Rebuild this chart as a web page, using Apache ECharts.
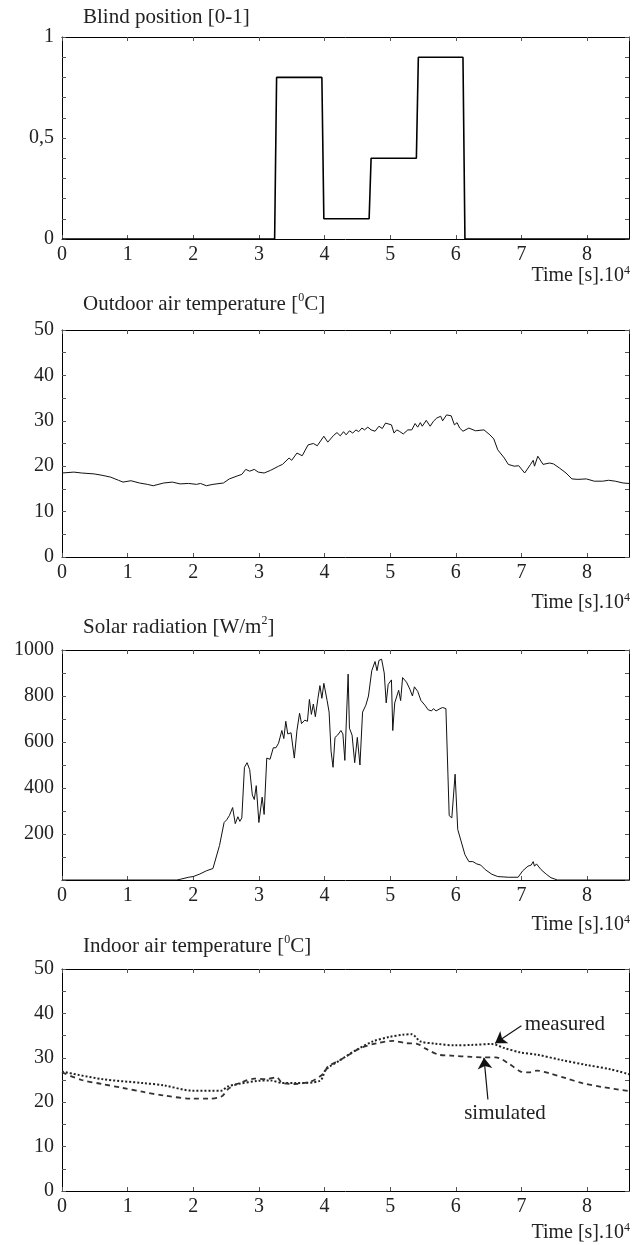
<!DOCTYPE html>
<html>
<head>
<meta charset="utf-8">
<script src="https://cdn.jsdelivr.net/npm/echarts@6/dist/echarts.min.js"></script>
<style>
html,body{margin:0;padding:0;background:#fff;}
#c{width:643px;height:1245px;}
</style>
</head>
<body>
<div id="c"></div>
<script>
// ---- data (time in units of 10^4 s) ----
const blindTime = [0, 3.24, 3.27, 3.96, 3.99, 4.68, 4.71, 5.40, 5.43, 6.11, 6.14, 8.64];
const blindPos  = [0, 0, 0.8, 0.8, 0.1, 0.1, 0.4, 0.4, 0.9, 0.9, 0, 0];

const outdoorTime = [0,0.18,0.3,0.49,0.61,0.74,0.86,0.93,1.05,1.18,1.3,1.39,1.55,1.68,1.8,1.93,2.05,2.11,2.2,2.3,2.46,2.55,2.68,2.74,2.8,2.86,2.93,2.99,3.08,3.18,3.3,3.36,3.46,3.5,3.58,3.66,3.75,3.83,3.89,3.99,4.05,4.14,4.19,4.24,4.29,4.33,4.38,4.43,4.48,4.52,4.57,4.61,4.66,4.71,4.77,4.83,4.88,4.93,5.02,5.06,5.1,5.14,5.2,5.27,5.33,5.38,5.42,5.46,5.49,5.55,5.61,5.66,5.71,5.77,5.8,5.86,5.93,5.98,6.02,6.06,6.11,6.2,6.3,6.43,6.52,6.58,6.64,6.74,6.8,6.89,6.96,7.05,7.14,7.18,7.2,7.25,7.33,7.43,7.49,7.58,7.68,7.77,7.86,7.99,8.11,8.24,8.33,8.43,8.55,8.64];
const outdoorTemp = [18.5,18.7,18.5,18.3,18.0,17.6,16.9,16.5,16.8,16.3,16.0,15.7,16.3,16.5,16.1,16.2,16.0,16.2,15.7,16.0,16.3,17.2,17.9,18.2,19.3,18.9,19.3,18.7,18.5,19.1,20.0,20.4,21.8,21.3,22.9,22.3,24.7,25.0,24.5,26.6,25.3,26.8,27.4,26.7,27.6,26.9,27.8,27.3,28.0,27.6,28.4,28.0,28.6,28.0,27.7,28.8,28.3,29.5,29.1,27.3,28.0,27.7,27.1,28.0,28.0,29.4,28.6,29.6,28.8,30.1,28.8,29.9,30.6,31.0,30.0,31.3,31.1,29.1,29.6,28.4,27.7,28.4,27.8,28.0,26.9,26.0,23.6,21.8,20.4,20.0,20.1,18.5,20.4,21.3,20.0,22.2,20.4,20.7,20.5,19.6,18.5,17.2,17.1,17.2,16.7,16.7,16.9,16.7,16.3,16.2];

const solarTime = [0,1.75,1.8,1.93,2.0,2.1,2.2,2.3,2.35,2.4,2.43,2.47,2.51,2.55,2.6,2.64,2.68,2.71,2.74,2.78,2.82,2.86,2.9,2.93,2.96,3.0,3.05,3.08,3.12,3.17,3.22,3.26,3.3,3.35,3.38,3.41,3.44,3.49,3.54,3.58,3.62,3.65,3.7,3.74,3.77,3.8,3.83,3.86,3.9,3.93,3.96,3.99,4.04,4.07,4.1,4.13,4.16,4.2,4.25,4.28,4.31,4.36,4.38,4.42,4.46,4.5,4.54,4.58,4.63,4.67,4.72,4.77,4.8,4.83,4.87,4.91,4.94,4.97,5.02,5.04,5.07,5.1,5.13,5.16,5.19,5.25,5.3,5.34,5.37,5.42,5.47,5.53,5.58,5.63,5.66,5.7,5.76,5.8,5.85,5.9,5.94,5.99,6.03,6.08,6.14,6.2,6.26,6.32,6.38,6.45,6.55,6.64,6.8,6.95,7.02,7.1,7.15,7.18,7.2,7.23,7.26,7.3,7.38,7.45,7.55,8.64];
const solarRad  = [0,0,3,12,15,26,40,50,100,150,148,250,262,280,315,245,275,255,270,490,510,480,370,350,410,250,360,285,530,525,575,575,595,650,615,690,635,640,530,650,725,680,695,690,785,720,765,710,790,845,790,855,780,730,560,490,620,630,650,635,520,895,660,630,510,620,500,730,760,800,910,950,910,955,960,900,770,850,870,650,770,770,825,780,880,860,830,800,840,820,780,760,740,735,745,735,745,750,745,280,270,460,220,170,110,80,80,70,65,45,25,15,12,12,40,60,65,80,60,70,65,45,25,10,0,0];

const indoorTime   = [0,0.61,1.24,1.55,1.99,2.43,2.52,2.68,2.99,3.18,3.36,3.55,3.93,4.02,4.24,4.49,4.74,4.99,5.2,5.33,5.46,5.68,5.99,6.24,6.55,6.74,6.99,7.24,7.61,7.99,8.36,8.64];
const measuredTemp = [26.9,25.2,24.3,23.8,22.6,22.6,23.5,24.1,24.8,24.9,24.3,24.3,24.8,27.3,29.5,31.8,33.7,34.7,35.2,35.3,33.7,33.2,32.8,32.9,33.1,32.2,31.2,30.7,29.5,28.4,27.4,26.3];
const simTime      = [0,0.3,0.61,0.93,1.24,1.55,1.99,2.24,2.43,2.55,2.74,2.93,3.11,3.27,3.36,3.55,3.8,3.99,4.05,4.24,4.55,4.8,5.05,5.24,5.42,5.55,5.74,5.93,6.24,6.43,6.61,6.8,6.99,7.11,7.24,7.43,7.68,7.93,8.24,8.64];
const simTemp      = [26.7,25.0,24.1,23.2,22.3,21.5,20.8,20.8,21.3,23.2,24.5,25.3,25.2,25.6,24.3,24.1,24.7,26.5,28.0,29.5,32.2,33.3,33.8,33.3,33.1,32.0,30.7,30.5,30.2,30.1,30.1,28.8,26.9,26.7,27.1,26.5,25.4,24.3,23.4,22.5];

const panelTitles = ['Blind position [0-1]', 'Outdoor air temperature [{sup|0}C]', 'Solar radiation [W/m{sup|2}]', 'Indoor air temperature [{sup|0}C]'];
const timeLabel = 'Time [s].10{sup|4}';

// ---- layout ----
const FONT = '"Liberation Serif","Times New Roman",serif';
const FS = 20, TFS = 21;
const gridBoxes = [
  {top: 37, height: 202},
  {top: 330, height: 227},
  {top: 650, height: 230},
  {top: 969, height: 222}
];
const L = 62, W = 567;
const titleTops = [5, 292, 615, 934];
const timeTops = [265, 592, 914, 1222];
const yConf = [
  {max: 1, interval: 0.1, fmt: v => Math.abs(v) < 1e-6 ? '0' : Math.abs(v - 0.5) < 1e-6 ? '0,5' : Math.abs(v - 1) < 1e-6 ? '1' : ''},
  {max: 50, interval: 5, fmt: v => (Math.round(v) % 10 === 0) ? String(Math.round(v)) : ''},
  {max: 1000, interval: 100, fmt: v => (Math.round(v) % 200 === 0 && v > 0) ? String(Math.round(v)) : ''},
  {max: 50, interval: 5, fmt: v => (Math.round(v) % 10 === 0) ? String(Math.round(v)) : ''}
];

const zip = (a, b) => a.map((x, i) => [x, b[i]]);
const rich = {sup: {fontSize: 12, fontFamily: FONT, color: '#222', verticalAlign: 'top', lineHeight: 12}};

const grid = [], xAxis = [], yAxis = [], title = [];
const tickStyle = {inside: true, length: 4, lineStyle: {color: '#555', width: 1}};
gridBoxes.forEach((g, i) => {
  grid.push({left: L, width: W, top: g.top, height: g.height, containLabel: false});
  xAxis.push({type: 'value', gridIndex: i, min: 0, max: 8.64, interval: 1, position: 'bottom',
    axisLine: {show: true, onZero: false, lineStyle: {color: '#000', width: 1}},
    axisTick: tickStyle, splitLine: {show: false},
    axisLabel: {show: true, margin: 6, color: '#222', fontFamily: FONT, fontSize: FS, showMaxLabel: false}});
  xAxis.push({type: 'value', gridIndex: i, min: 0, max: 8.64, interval: 1, position: 'top',
    axisLine: {show: true, onZero: false, lineStyle: {color: '#000', width: 1}},
    axisTick: tickStyle, splitLine: {show: false}, axisLabel: {show: false}});
  const yc = yConf[i];
  yAxis.push({type: 'value', gridIndex: i, min: 0, max: yc.max, interval: yc.interval, position: 'left',
    axisLine: {show: true, onZero: false, lineStyle: {color: '#000', width: 1}},
    axisTick: tickStyle, splitLine: {show: false},
    axisLabel: {show: true, margin: 8, color: '#222', fontFamily: FONT, fontSize: FS, formatter: yc.fmt}});
  yAxis.push({type: 'value', gridIndex: i, min: 0, max: yc.max, interval: yc.interval, position: 'right',
    axisLine: {show: true, onZero: false, lineStyle: {color: '#000', width: 1}},
    axisTick: tickStyle, splitLine: {show: false}, axisLabel: {show: false}});
  title.push({text: panelTitles[i], left: 83, top: titleTops[i], padding: 0,
    textStyle: {fontFamily: FONT, fontSize: TFS, fontWeight: 'normal', color: '#222', lineHeight: 24, rich: rich}});
  title.push({text: timeLabel, right: 13, top: timeTops[i], padding: 0,
    textStyle: {fontFamily: FONT, fontSize: FS, fontWeight: 'normal', color: '#222', lineHeight: 22, rich: rich}});
});

const baseLine = (gi, data, style) => ({type: 'line', xAxisIndex: gi * 2, yAxisIndex: gi * 2, data: data,
  showSymbol: false, symbol: 'none', animation: false, lineStyle: style, silent: true});

const series = [
  baseLine(0, zip(blindTime, blindPos), {color: '#000', width: 1.6}),
  baseLine(1, zip(outdoorTime, outdoorTemp), {color: '#111', width: 1}),
  baseLine(2, zip(solarTime, solarRad), {color: '#111', width: 1}),
  Object.assign(baseLine(3, zip(indoorTime, measuredTemp), {color: '#222', width: 2, type: [2, 2]}), {smooth: 0.3,
    markLine: {silent: true, animation: false, symbol: ['none', 'arrow'], symbolSize: 11, label: {show: false},
      lineStyle: {color: '#111', width: 1.2, type: 'solid'},
      data: [[{coord: [7.0, 37.2]}, {coord: [6.6, 33.3]}], [{coord: [6.49, 20.6]}, {coord: [6.43, 30.0]}]]}}),
  Object.assign(baseLine(3, zip(simTime, simTemp), {color: '#333', width: 1.8, type: [5, 4]}), {smooth: 0.3})
];

const chart = echarts.init(document.getElementById('c'), null, {renderer: 'canvas'});
chart.setOption({animation: false, backgroundColor: '#fff', title, grid, xAxis, yAxis, series});

const pm = chart.convertToPixel({gridIndex: 3}, [7.05, 37.6]);
const ps = chart.convertToPixel({gridIndex: 3}, [6.75, 17.4]);
chart.setOption({graphic: [
  {type: 'text', x: pm[0], y: pm[1], style: {text: 'measured', font: TFS + 'px ' + FONT, fill: '#222', textAlign: 'left', textVerticalAlign: 'middle'}},
  {type: 'text', x: ps[0], y: ps[1], style: {text: 'simulated', font: TFS + 'px ' + FONT, fill: '#222', textAlign: 'center', textVerticalAlign: 'middle'}}
]});
</script>
</body>
</html>
